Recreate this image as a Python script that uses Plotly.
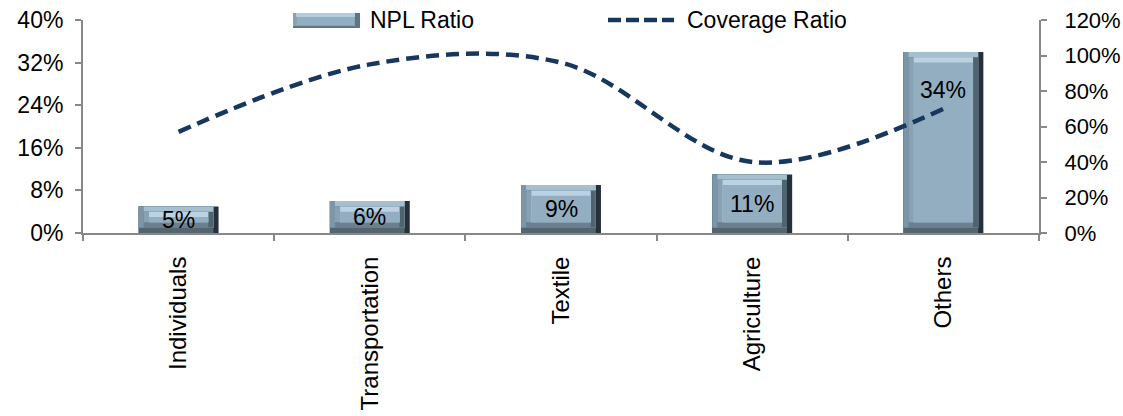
import plotly.graph_objects as go

# NPL and coverage ratios by sector (percent)
sectors = ["Individuals", "Transportation", "Textile", "Agriculture", "Others"]
npl_ratio = [5, 6, 9, 11, 34]
coverage_ratio = [57, 95, 96, 40, 70]

# page / plot-area geometry in pixels
W, H = 1123, 416
M_L, M_R, M_T, M_B = 83, 84, 20, 183
PLOT_W = W - M_L - M_R
PLOT_H = H - M_T - M_B

# bar geometry (category units) and bevel step sizes
BAR_W = 0.418
STEP_X = 0.027
STEP_Y = 1.0
LABEL_FRAC = [0.5, 0.5, 0.5, 0.5, 0.79]

# bevel colours per step: (right, bottom, left, top), outer step first
BEVEL_COLORS = [
    ("#25313a", "#53666f", "#7d96a7", "#a6bfcf"),
    ("#50646f", "#6a808f", "#89a2b3", "#bad2e1"),
]
FACE = "#93aec0"
LINE_COLOR = "#17375e"

FONT = "Liberation Sans, Arial, sans-serif"
FSIZE = 23
AXIS_GREY = "#888888"

fig = go.Figure()


def bevel_rect(lx, rx, by, ty, color):
    """One rectangle per bar, inset from the bar edges."""
    base = [by] * len(npl_ratio)
    top = [v - ty for v in npl_ratio]
    fig.add_trace(go.Bar(
        x=sectors,
        y=[t - b for t, b in zip(top, base)],
        base=base,
        offset=-BAR_W / 2 + lx,
        width=BAR_W - lx - rx,
        marker=dict(color=color, line=dict(width=0)),
        showlegend=False,
        hoverinfo="skip",
    ))


for k, (c_right, c_bottom, c_left, c_top) in enumerate(BEVEL_COLORS):
    px, py = k * STEP_X, k * STEP_Y
    nx, ny = (k + 1) * STEP_X, (k + 1) * STEP_Y
    bevel_rect(px, px, py, py, c_right)
    bevel_rect(px, nx, py, py, c_bottom)
    bevel_rect(px, nx, ny, py, c_left)
    bevel_rect(nx, nx, ny, py, c_top)
n = len(BEVEL_COLORS)
bevel_rect(n * STEP_X, n * STEP_X, n * STEP_Y, n * STEP_Y, FACE)

fig.add_trace(go.Scatter(
    x=sectors, y=coverage_ratio, name="Coverage Ratio", yaxis="y2",
    mode="lines", showlegend=False,
    line=dict(color=LINE_COLOR, width=4.5, dash="13px,7px", shape="spline", smoothing=1.0),
    hoverinfo="skip",
))

# value labels on the bars
for s, v, f in zip(sectors, npl_ratio, LABEL_FRAC):
    fig.add_annotation(
        x=s, y=v * f, xref="x", yref="y", text=f"{v}%", showarrow=False,
        font=dict(family=FONT, size=FSIZE, color="#000000"),
    )


# legend drawn along the top edge (pixel positions converted to paper units)
def px_x(p):
    return (p - M_L) / PLOT_W


def px_y(p):
    return (H - M_B - p) / PLOT_H


LEG_Y = 20


def paper_rect(x0, x1, y0, y1, color):
    fig.add_shape(type="rect", xref="paper", yref="paper",
                  x0=px_x(x0), x1=px_x(x1), y0=px_y(y1), y1=px_y(y0),
                  fillcolor=color, line=dict(width=0), layer="above")


paper_rect(293, 360, 13, 28, "#5f7585")
paper_rect(293, 355, 13, 26, "#8aa3b4")
paper_rect(296, 355, 13, 17, "#b3cbdb")
paper_rect(297, 354, 17, 25, FACE)
fig.add_annotation(x=px_x(368), y=px_y(LEG_Y), xref="paper", yref="paper",
                   xanchor="left", yanchor="middle", text="NPL Ratio", showarrow=False,
                   font=dict(family=FONT, size=FSIZE, color="#000000"))
fig.add_shape(type="line", xref="paper", yref="paper",
              x0=px_x(608), x1=px_x(674), y0=px_y(LEG_Y), y1=px_y(LEG_Y),
              line=dict(color=LINE_COLOR, width=4.5, dash="13px,5px"), layer="above")
fig.add_annotation(x=px_x(685), y=px_y(LEG_Y), xref="paper", yref="paper",
                   xanchor="left", yanchor="middle", text="Coverage Ratio", showarrow=False,
                   font=dict(family=FONT, size=FSIZE, color="#000000"))

axis_common = dict(
    showline=True, linecolor=AXIS_GREY, linewidth=2,
    ticks="outside", tickcolor=AXIS_GREY, tickwidth=2,
    showgrid=False, zeroline=False, automargin=False,
)

fig.update_layout(
    width=W, height=H,
    margin=dict(l=M_L, r=M_R, t=M_T, b=M_B),
    plot_bgcolor="white", paper_bgcolor="white",
    barmode="overlay",
    font=dict(family=FONT, size=FSIZE, color="#000000"),
    showlegend=False,
    xaxis=dict(
        type="category", range=[-0.5, 4.5],
        ticklen=6, tickson="boundaries", tickangle=-90, ticklabelstandoff=12,
        tickfont=dict(family=FONT, size=24, color="#000000"),
        **axis_common,
    ),
    yaxis=dict(
        range=[0, 40], dtick=8, ticksuffix="%", ticklen=6, ticklabelstandoff=7,
        tickfont=dict(family=FONT, size=FSIZE, color="#000000"),
        **axis_common,
    ),
    yaxis2=dict(
        range=[0, 120], dtick=20, ticksuffix="%", overlaying="y", side="right",
        ticklen=6, ticklabelstandoff=13,
        tickfont=dict(family=FONT, size=22, color="#000000"),
        **axis_common,
    ),
)

fig.write_html("out.html")
